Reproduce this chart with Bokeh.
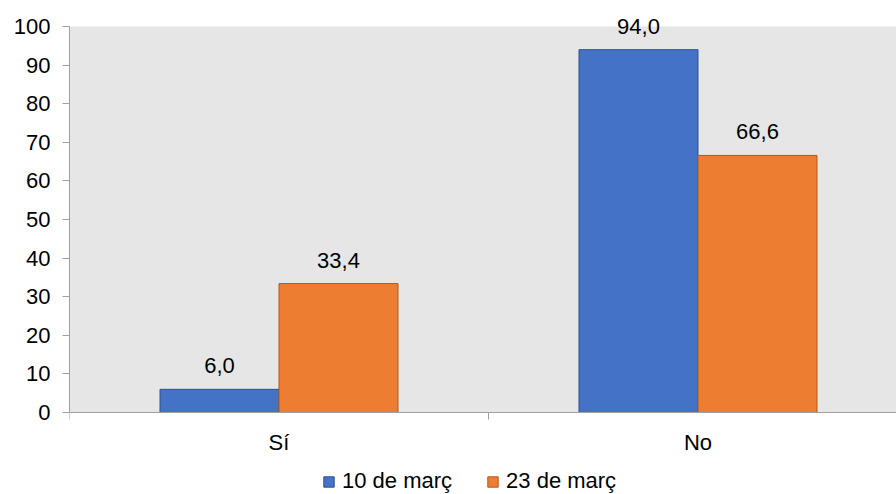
from bokeh.plotting import figure
from bokeh.models import (Range1d, FixedTicker, ColumnDataSource, LabelSet, Legend,
                          LegendItem, BoxAnnotation, Span)
from bokeh.core.properties import value
from bokeh.embed import file_html
from bokeh.resources import INLINE

categories = ["Sí", "No"]
series_names = ["10 de març", "23 de març"]
values_10 = [6.0, 94.0]
values_23 = [33.4, 66.6]
y_ticks = [0, 10, 20, 30, 40, 50, 60, 70, 80, 90, 100]

BLUE = "#4472C4"
BLUE_EDGE = "#2F528F"
ORANGE = "#ED7D31"
ORANGE_EDGE = "#AE5A21"
GRID_BG = "#E6E6E6"
AXIS = "#A0A0A0"
FONT = "Liberation Sans"
FS = "22px"

fig_w, fig_h = 896, 494
frame_left = 69
top_px, zero_px = 26, 412          # pixel rows of y = 100 and y = 0
px_per_unit = (zero_px - top_px) / 100.0
cat_px = 419.0
frame_w = fig_w - frame_left
bw = 119.0 / cat_px
y_start = -(fig_h - zero_px) / px_per_unit
y_end = 100 + top_px / px_per_unit

p = figure(width=fig_w, height=fig_h, output_backend="svg", toolbar_location=None,
           x_range=Range1d(0, frame_w / cat_px), y_range=Range1d(y_start, y_end),
           min_border_left=frame_left, min_border_right=0, min_border_top=0,
           min_border_bottom=0, x_axis_location=None)

p.background_fill_color = "white"
p.border_fill_color = "white"
p.outline_line_color = None
p.xgrid.grid_line_color = None
p.ygrid.grid_line_color = None

# grey plot area (0..100)
p.add_layout(BoxAnnotation(bottom=0, top=100, fill_color=GRID_BG, fill_alpha=1,
                           line_color=None, level="underlay"))

idx = list(range(len(categories)))
x_blue = [i + 0.5 - bw / 2 for i in idx]
x_orange = [i + 0.5 + bw / 2 for i in idx]

src_b = ColumnDataSource(dict(x=x_blue, top=values_10,
                              lab=[f"{v:.1f}".replace(".", ",") for v in values_10]))
src_o = ColumnDataSource(dict(x=x_orange, top=values_23,
                              lab=[f"{v:.1f}".replace(".", ",") for v in values_23]))

rb = p.vbar(x="x", top="top", bottom=0, width=bw, source=src_b,
            fill_color=BLUE, line_color=BLUE_EDGE, line_width=1)
ro = p.vbar(x="x", top="top", bottom=0, width=bw, source=src_o,
            fill_color=ORANGE, line_color=ORANGE_EDGE, line_width=1)

for s in (src_b, src_o):
    p.add_layout(LabelSet(x="x", y="top", text="lab", source=s, text_align="center",
                          text_baseline="alphabetic", y_offset=16,
                          text_font=value(FONT), text_font_size=FS,
                          text_color="#000000"))

# category axis: baseline, ticks between categories, labels
p.add_layout(Span(location=0, dimension="width", line_color=AXIS, line_width=1))
tick_len = 7 / px_per_unit
bounds = list(range(len(categories) + 1))
p.segment(x0=bounds, x1=bounds, y0=[0] * len(bounds), y1=[-tick_len] * len(bounds),
          line_color=AXIS, line_width=1)
src_c = ColumnDataSource(dict(x=[i + 0.5 for i in idx], y=[0] * len(idx), lab=categories))
p.add_layout(LabelSet(x="x", y="y", text="lab", source=src_c, text_align="center",
                      text_baseline="alphabetic", y_offset=-37,
                      text_font=value(FONT), text_font_size=FS, text_color="#000000"))

# y axis
p.yaxis.ticker = FixedTicker(ticks=y_ticks)
p.yaxis.bounds = (0, 100)
p.yaxis.minor_tick_line_color = None
p.yaxis.major_tick_in = 0
p.yaxis.major_tick_out = 7
p.yaxis.axis_line_color = AXIS
p.yaxis.major_tick_line_color = AXIS
p.yaxis.major_label_text_font = FONT
p.yaxis.major_label_text_font_size = FS
p.yaxis.major_label_text_color = "#000000"
p.yaxis.major_label_standoff = 12

legend = Legend(items=[LegendItem(label=series_names[0], renderers=[rb]),
                       LegendItem(label=series_names[1], renderers=[ro])],
                orientation="horizontal", location=(253, 0),
                label_text_font=FONT, label_text_font_size=FS,
                label_text_color="#000000",
                glyph_width=13, glyph_height=13, label_standoff=7, spacing=34,
                padding=0, margin=0, border_line_color=None,
                background_fill_alpha=0)
p.add_layout(legend, "center")

open("out.html", "w").write(file_html(p, INLINE))
